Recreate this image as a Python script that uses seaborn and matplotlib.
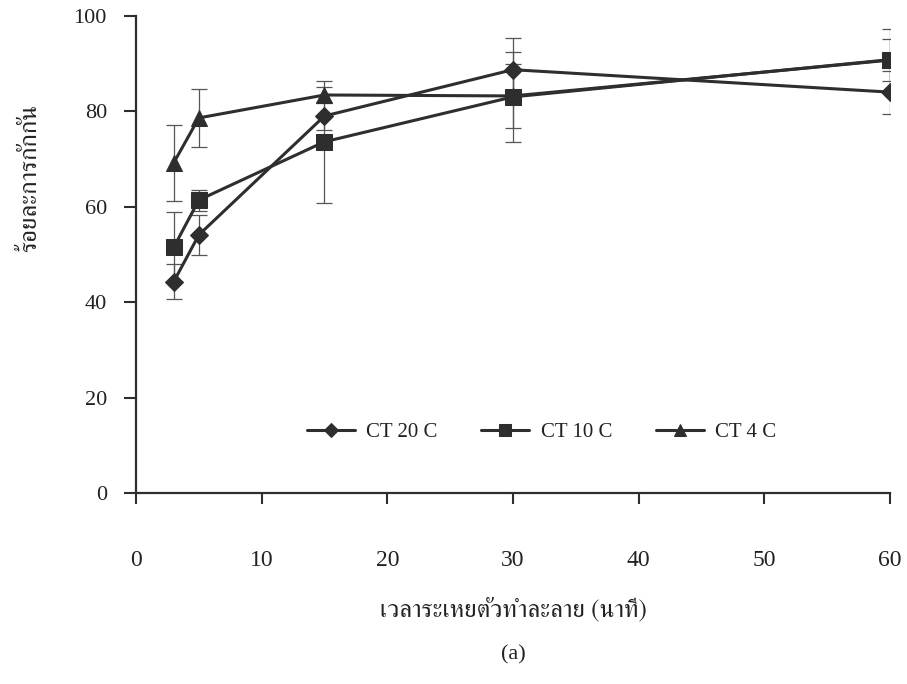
import matplotlib
matplotlib.use("Agg")
import matplotlib.pyplot as plt
import seaborn as sns
import pandas as pd
from matplotlib import font_manager
from matplotlib.ft2font import FT2Font

# ---- data -------------------------------------------------------------
times = [3, 5, 15, 30, 60]
series_names = ["CT 20 C", "CT 10 C", "CT 4 C"]
ct20_mean = [44.3, 54.1, 79.0, 88.7, 84.0]
ct20_err = [3.6, 4.2, 3.0, 6.6, 4.5]
ct10_mean = [51.5, 61.4, 73.6, 83.0, 90.8]
ct10_err = [7.3, 2.2, 12.8, 9.4, 6.5]
ct4_mean = [69.2, 78.6, 83.4, 83.2, 90.7]
ct4_err = [8.0, 6.0, 1.7, 6.7, 4.4]

x_ticks = [0, 10, 20, 30, 40, 50, 60]
y_ticks = [0, 20, 40, 60, 80, 100]
x_label = "เวลาระเหยตัวทำละลาย (นาที)"
y_label = "ร้อยละการกักกัน"
caption = "(a)"

# ---- fonts ------------------------------------------------------------
def thai_families():
    names = []
    for f in font_manager.fontManager.ttflist:
        try:
            cmap = FT2Font(f.fname).get_charmap()
        except Exception:
            continue
        if 0x0E01 in cmap and 0x0E17 in cmap and 0x0E32 in cmap:
            if f.name not in names:
                names.append(f.name)
    names.sort(key=lambda n: (0 if "Serif" in n else 1, n))
    return names

sns.set_theme(style="ticks")
thai = thai_families()
serif = "Liberation Serif"
plt.rcParams["font.family"] = [serif] + thai + ["DejaVu Sans"]
thai_list = thai + [serif, "DejaVu Sans"]

# ---- table ------------------------------------------------------------
means = {"CT 20 C": ct20_mean, "CT 10 C": ct10_mean, "CT 4 C": ct4_mean}
errs = {"CT 20 C": ct20_err, "CT 10 C": ct10_err, "CT 4 C": ct4_err}
rows = []
for name in series_names:
    for t, m, e in zip(times, means[name], errs[name]):
        rows.append({"time": t, "value": m, "err": e, "series": name})
df = pd.DataFrame(rows)

markers = {"CT 20 C": "D", "CT 10 C": "s", "CT 4 C": "^"}
msize = {"CT 20 C": 9, "CT 10 C": 11, "CT 4 C": 11}
ink = "#2e2e2e"

fig = plt.figure(figsize=(9.07, 6.84), dpi=100)
ax = fig.add_axes([0.15, 0.279, 0.831, 0.698])

# error bars first, underneath the lines
for name in series_names:
    d = df[df["series"] == name]
    ax.errorbar(d["time"], d["value"], yerr=d["err"], fmt="none",
                ecolor="#555555", elinewidth=0.9, capsize=6, capthick=0.9,
                zorder=1)

for name in series_names:
    d = df[df["series"] == name]
    sns.lineplot(data=d, x="time", y="value", ax=ax, color=ink,
                 linewidth=2.2, marker=markers[name], markersize=msize[name],
                 markeredgecolor=ink, markerfacecolor=ink, label=name,
                 zorder=3, errorbar=None)

ax.set_xlim(0, 60)
ax.set_ylim(0, 100)
ax.set_xticks(x_ticks)
ax.set_yticks(y_ticks)
ax.set_xticklabels([str(v) for v in x_ticks], fontsize=17)
ax.set_yticklabels([str(v) for v in y_ticks], fontsize=16)
ax.tick_params(axis="x", direction="out", length=8, width=1.5, pad=33,
               colors=ink, labelcolor="#222222")
ax.tick_params(axis="y", direction="out", length=9, width=1.5, pad=12,
               colors=ink, labelcolor="#222222")
for side in ("top", "right"):
    ax.spines[side].set_visible(False)
for side in ("left", "bottom"):
    ax.spines[side].set_linewidth(1.6)
    ax.spines[side].set_color(ink)

ax.set_xlabel("")
ax.set_ylabel(y_label, fontsize=18, family=thai_list, color="#222222")
ax.yaxis.set_label_coords(-0.125, 0.66)

fig.text(0.566, 0.108, x_label, fontsize=18, family=thai_list,
         ha="center", va="center", color="#222222")
fig.text(0.566, 0.042, caption, fontsize=16, ha="center", va="center",
         color="#222222")

leg = ax.legend(loc="center", bbox_to_anchor=(0.538, 0.128), ncol=3,
                frameon=False, fontsize=15, handlelength=2.3,
                columnspacing=2.1, handletextpad=0.55, markerscale=0.8)
for t in leg.get_texts():
    t.set_color("#222222")

fig.savefig("out.png", dpi=100)
